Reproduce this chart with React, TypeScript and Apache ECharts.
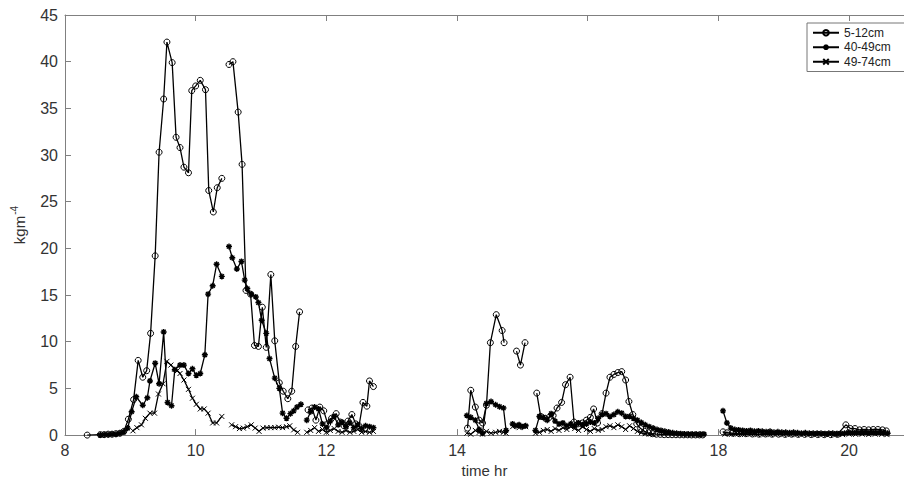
import React, { useEffect, useRef } from 'react';
import * as echarts from 'echarts';

type Pt = [number, number] | null;

const seriesNames = ['5-12cm', '40-49cm', '49-74cm'];
const xLabel = 'time hr';
const yLabelMain = 'kgm';
const yLabelSup = '-4';

// 5-12cm (time hr, value); null marks a gap in the record
const s1: Pt[] = [
  [8.34, 0], [8.54, 0.05], [8.6, 0.05], [8.66, 0.1], [8.72, 0.1], [8.78, 0.15], [8.84, 0.2], [8.9, 0.4],
  [8.97, 1.7], [9.05, 3.8], [9.12, 8.0], [9.19, 6.2], [9.25, 6.9], [9.31, 10.9], [9.38, 19.2], [9.44, 30.3],
  [9.51, 36.0], [9.56, 42.1], [9.64, 39.9], [9.7, 31.9], [9.76, 30.8], [9.82, 28.7], [9.89, 28.1], [9.94, 36.9],
  [10.0, 37.4], [10.07, 38.0], [10.15, 37.0], [10.2, 26.2], [10.27, 23.9], [10.33, 26.5], [10.4, 27.5],
  null,
  [10.51, 39.7], [10.57, 40.0], [10.65, 34.6], [10.71, 29.0], [10.77, 15.5], [10.84, 15.1], [10.9, 9.6],
  [10.96, 9.5], [11.02, 13.7], [11.08, 9.4], [11.15, 17.2], [11.21, 10.1], [11.28, 5.6], [11.34, 4.7],
  [11.41, 3.9], [11.47, 4.7], [11.53, 9.5], [11.59, 13.2],
  null,
  [11.72, 2.7], [11.78, 2.9], [11.84, 1.6], [11.9, 3.0], [11.96, 2.6], [12.02, 1.2], [12.08, 1.8], [12.15, 2.3],
  [12.21, 1.4], [12.27, 1.0], [12.33, 1.5], [12.39, 2.2], [12.45, 1.2], [12.5, 1.0], [12.56, 3.5], [12.62, 3.1],
  [12.66, 5.8], [12.72, 5.2],
  null,
  [14.16, 0.75], [14.21, 4.8], [14.28, 3.0], [14.34, 1.6], [14.39, 1.3], [14.45, 3.2], [14.51, 9.9], [14.6, 12.9],
  [14.69, 11.2], [14.72, 9.9],
  null,
  [14.91, 9.0], [14.97, 7.5], [15.04, 9.9],
  null,
  [15.22, 4.5], [15.28, 2.0], [15.35, 1.8], [15.41, 1.9], [15.47, 2.1], [15.53, 2.9], [15.6, 3.5], [15.66, 5.4],
  [15.73, 6.2], [15.79, 1.4], [15.85, 1.2], [15.92, 1.3], [15.98, 1.6], [16.04, 1.9], [16.09, 2.8], [16.15, 1.3],
  [16.22, 2.3], [16.28, 4.5], [16.34, 6.2], [16.4, 6.5], [16.46, 6.7], [16.52, 6.8], [16.58, 5.9], [16.63, 3.6],
  [16.69, 2.2], [16.75, 1.2], [16.81, 0.7], [16.87, 0.4], [16.93, 0.25], [16.99, 0.15], [17.05, 0.1], [17.11, 0.08],
  [17.17, 0.05], [17.23, 0.05], [17.29, 0.04], [17.35, 0.04], [17.41, 0.03], [17.47, 0.03], [17.53, 0.03],
  [17.59, 0.02], [17.65, 0.02], [17.71, 0.02], [17.76, 0.02],
  null,
  [18.07, 0.35], [18.13, 0.25], [18.22, 0.2], [18.32, 0.15], [18.42, 0.15], [18.52, 0.12], [18.62, 0.1],
  [18.72, 0.12], [18.82, 0.1], [18.92, 0.1], [19.02, 0.08], [19.12, 0.1], [19.22, 0.08], [19.32, 0.08],
  [19.42, 0.06], [19.52, 0.06], [19.62, 0.05], [19.72, 0.05], [19.82, 0.08],
  [19.95, 1.1], [20.02, 0.7], [20.09, 0.7], [20.16, 0.56], [20.23, 0.6], [20.3, 0.56], [20.37, 0.6],
  [20.44, 0.6], [20.51, 0.56], [20.57, 0.45],
];

// 40-49cm
const s2: Pt[] = [
  [8.54, 0], [8.6, 0.05], [8.66, 0.05], [8.72, 0.1], [8.78, 0.1], [8.84, 0.2], [8.9, 0.35], [8.96, 0.75],
  [9.02, 2.5], [9.09, 4.1], [9.19, 3.2], [9.26, 4.0], [9.3, 5.8], [9.38, 7.7], [9.44, 5.5], [9.51, 11.05],
  [9.57, 3.5], [9.63, 3.15], [9.68, 7.0], [9.76, 7.5], [9.82, 7.5], [9.89, 6.6], [9.95, 7.1], [10.01, 6.4],
  [10.07, 6.6], [10.14, 8.6], [10.19, 15.1], [10.26, 16.0], [10.32, 18.3], [10.4, 17.0],
  null,
  [10.51, 20.2], [10.56, 19.0], [10.63, 17.8], [10.7, 18.6], [10.75, 16.6], [10.79, 15.7], [10.85, 15.1],
  [10.92, 14.8], [10.96, 14.2], [11.01, 12.3], [11.08, 10.9], [11.13, 8.2], [11.21, 6.1], [11.28, 5.0],
  [11.33, 2.35], [11.39, 1.8], [11.45, 2.3], [11.5, 2.6], [11.55, 3.0], [11.61, 3.3],
  null,
  [11.7, 1.6], [11.76, 2.5], [11.82, 3.0], [11.88, 2.8], [11.94, 1.2], [12.0, 0.8], [12.06, 1.5], [12.12, 2.0],
  [12.18, 1.1], [12.24, 1.4], [12.3, 0.9], [12.36, 1.3], [12.42, 0.8], [12.48, 1.1], [12.54, 0.7], [12.6, 1.0],
  [12.66, 0.9], [12.72, 0.8],
  null,
  [14.15, 2.1], [14.21, 1.9], [14.28, 1.6], [14.34, 0.6], [14.39, 0.2], [14.45, 3.4], [14.52, 3.6], [14.59, 3.25],
  [14.65, 3.05], [14.71, 2.9], [14.75, 0.5],
  null,
  [14.85, 1.2], [14.9, 1.0], [14.95, 1.1], [15.0, 0.9], [15.05, 1.0],
  null,
  [15.2, 0.5], [15.26, 2.0], [15.32, 1.9], [15.38, 1.6], [15.44, 2.3], [15.5, 1.5], [15.56, 1.2], [15.62, 1.3],
  [15.68, 1.0], [15.74, 1.2], [15.8, 1.0], [15.86, 1.3], [15.92, 1.1], [15.98, 1.2], [16.04, 1.4], [16.1, 1.3],
  [16.16, 1.8], [16.22, 2.2], [16.28, 2.3], [16.34, 2.0], [16.4, 2.2], [16.46, 2.5], [16.52, 2.35], [16.58, 2.0],
  [16.64, 2.0], [16.7, 1.8], [16.76, 1.6], [16.82, 1.35], [16.88, 1.1], [16.94, 0.9], [17.0, 0.75], [17.06, 0.6],
  [17.12, 0.5], [17.18, 0.4], [17.24, 0.33], [17.3, 0.25], [17.36, 0.2], [17.42, 0.15], [17.48, 0.12],
  [17.54, 0.1], [17.6, 0.1], [17.66, 0.1], [17.72, 0.08], [17.78, 0.1],
  null,
  [18.07, 2.6], [18.13, 1.3], [18.19, 0.75], [18.25, 0.6], [18.31, 0.55], [18.37, 0.5], [18.43, 0.45],
  [18.49, 0.5], [18.55, 0.4], [18.61, 0.45], [18.67, 0.4], [18.73, 0.35], [18.79, 0.4], [18.85, 0.3],
  [18.91, 0.35], [18.97, 0.3], [19.03, 0.3], [19.09, 0.25], [19.15, 0.3], [19.21, 0.25], [19.27, 0.2],
  [19.33, 0.25], [19.39, 0.2], [19.45, 0.2], [19.51, 0.2], [19.57, 0.2], [19.63, 0.15], [19.69, 0.2],
  [19.75, 0.2], [19.81, 0.15], [19.87, 0.2], [19.93, 0.2], [19.99, 0.3], [20.05, 0.25], [20.11, 0.3],
  [20.17, 0.25], [20.23, 0.3], [20.29, 0.25], [20.35, 0.3], [20.41, 0.25], [20.47, 0.3], [20.53, 0.25],
  [20.59, 0.2],
];

// 49-74cm
const s3: Pt[] = [
  [9.04, 0.46], [9.1, 0.8], [9.17, 1.1], [9.23, 1.8], [9.3, 2.35], [9.37, 2.35], [9.43, 4.4], [9.5, 5.5],
  [9.56, 7.9], [9.62, 7.5], [9.68, 7.1], [9.72, 6.9], [9.76, 6.6], [9.82, 5.9], [9.89, 4.9], [9.95, 3.95],
  [10.01, 3.3], [10.07, 2.8], [10.13, 2.8], [10.19, 2.35], [10.26, 1.3], [10.32, 1.3], [10.4, 2.0],
  null,
  [10.55, 1.1], [10.61, 0.9], [10.67, 0.7], [10.73, 0.75], [10.79, 0.9], [10.85, 1.1], [10.91, 0.75],
  [10.97, 0.4], [11.03, 0.75], [11.09, 0.8], [11.15, 0.8], [11.21, 0.8], [11.27, 0.85], [11.33, 0.8],
  [11.39, 0.9], [11.44, 1.0], [11.5, 0.56], [11.56, 0.3],
  null,
  [11.7, 0.3], [11.76, 0.5], [11.82, 0.8], [11.88, 0.4], [11.94, 0.6], [12.0, 0.3], [12.06, 0.5], [12.12, 0.7],
  [12.18, 0.4], [12.24, 0.3], [12.3, 0.5], [12.36, 0.3], [12.42, 0.4], [12.48, 0.6], [12.54, 0.3], [12.6, 0.4],
  [12.66, 0.3], [12.72, 0.4],
  null,
  [14.15, 0.2], [14.21, 0.1], [14.28, 0.5], [14.34, 0.3], [14.39, 0.1], [14.45, 0.4], [14.52, 0.2],
  [14.59, 0.3], [14.65, 0.4], [14.71, 0.3], [14.75, 0.2],
  null,
  [14.85, 0.9], [14.9, 1.1], [14.95, 0.8], [15.0, 1.0], [15.05, 0.9],
  null,
  [15.2, 0.2], [15.26, 0.3], [15.32, 0.5], [15.38, 0.6], [15.44, 0.4], [15.5, 0.7], [15.56, 0.5], [15.62, 0.8],
  [15.68, 0.6], [15.74, 0.9], [15.8, 0.7], [15.86, 0.5], [15.92, 0.9], [15.98, 0.6], [16.04, 0.4], [16.1, 0.7],
  [16.16, 0.5], [16.22, 0.6], [16.28, 0.9], [16.34, 1.0], [16.4, 0.8], [16.46, 1.1], [16.52, 0.9], [16.58, 0.6],
  [16.64, 1.0], [16.7, 0.7], [16.76, 0.4], [16.82, 0.25], [16.88, 0.15], [16.94, 0.1], [17.0, 0.05],
  null,
  [18.1, 0.1], [18.2, 0.08], [18.3, 0.12], [18.4, 0.06], [18.5, 0.1], [18.6, 0.05], [18.7, 0.08], [18.8, 0.05],
  [18.9, 0.1], [19.0, 0.05], [19.1, 0.06], [19.2, 0.04], [19.3, 0.08], [19.4, 0.05], [19.5, 0.04], [19.6, 0.05],
  [19.7, 0.06], [19.8, 0.04], [19.9, 0.05], [20.0, 0.1], [20.1, 0.08], [20.2, 0.1], [20.3, 0.06], [20.4, 0.1],
  [20.5, 0.08], [20.58, 0.05],
];

const FONT = '"Liberation Sans", Arial, Helvetica, sans-serif';
const AXIS_COLOR = '#808080';
const TEXT_COLOR = '#333';

const toData = (arr: Pt[]) => arr.map((p) => (p === null ? ['-', '-'] : p));

const ASTERISK = 'path://M5,0L5,10M0,5L10,5M1.5,1.5L8.5,8.5M8.5,1.5L1.5,8.5';
const CROSS = 'path://M0,0L10,10M10,0L0,10';

export default function App() {
  const ref = useRef<HTMLDivElement>(null);

  useEffect(() => {
    if (!ref.current) return;
    const chart = echarts.init(ref.current, null, { renderer: 'svg' });
    const lineStyle = { color: '#000', width: 1.3 };
    const option: any = {
      animation: false,
      backgroundColor: '#fff',
      textStyle: { fontFamily: FONT },
      grid: { left: 65, right: 0, top: 15, bottom: 46, containLabel: false },
      legend: {
        data: seriesNames,
        orient: 'vertical',
        left: 807,
        top: 23,
        padding: [3, 30, 3, 5],
        itemGap: 1,
        itemWidth: 26,
        itemHeight: 7,
        borderColor: '#777',
        borderWidth: 1,
        textStyle: { fontSize: 12, color: '#222', fontFamily: FONT, lineHeight: 13.5 },
      },
      xAxis: [
        {
          type: 'value',
          position: 'bottom',
          min: 8,
          max: 20.84,
          interval: 2,
          axisLine: { show: true, lineStyle: { color: AXIS_COLOR, width: 1 } },
          axisTick: { show: true, inside: true, length: 6, lineStyle: { color: AXIS_COLOR } },
          axisLabel: { color: TEXT_COLOR, fontSize: 16, margin: 7, showMaxLabel: false, fontFamily: FONT },
          splitLine: { show: false },
          name: xLabel,
          nameLocation: 'middle',
          nameGap: 26,
          nameTextStyle: { fontSize: 15, color: TEXT_COLOR, fontFamily: FONT },
        },
        {
          type: 'value',
          position: 'top',
          min: 8,
          max: 20.84,
          interval: 2,
          axisLine: { show: true, lineStyle: { color: AXIS_COLOR, width: 1 } },
          axisTick: { show: true, inside: true, length: 6, lineStyle: { color: AXIS_COLOR } },
          axisLabel: { show: false },
          splitLine: { show: false },
        },
      ],
      yAxis: {
        type: 'value',
        min: 0,
        max: 45,
        interval: 5,
        axisLine: { show: true, lineStyle: { color: AXIS_COLOR, width: 1 } },
        axisTick: { show: true, inside: true, length: 6, lineStyle: { color: AXIS_COLOR } },
        axisLabel: { color: TEXT_COLOR, fontSize: 16, margin: 7, fontFamily: FONT },
        splitLine: { show: false },
        name: `{a|${yLabelMain}}{b|${yLabelSup}}`,
        nameLocation: 'middle',
        nameRotate: 90,
        nameGap: 36,
        nameTextStyle: {
          rich: {
            a: { fontSize: 15, color: TEXT_COLOR, fontFamily: FONT },
            b: { fontSize: 10, color: TEXT_COLOR, fontFamily: FONT, padding: [0, 0, 10, 1] },
          },
        },
      },
      series: [
        {
          name: seriesNames[0],
          type: 'line',
          data: toData(s1),
          symbol: 'circle',
          symbolSize: 6,
          showSymbol: true,
          connectNulls: false,
          lineStyle,
          itemStyle: { color: 'rgba(255,255,255,0)', borderColor: '#000', borderWidth: 1 },
          z: 2,
        },
        {
          name: seriesNames[1],
          type: 'line',
          data: toData(s2),
          symbol: ASTERISK,
          symbolSize: 6,
          showSymbol: true,
          connectNulls: false,
          lineStyle,
          itemStyle: { color: '#000', borderColor: '#000', borderWidth: 1.4 },
          z: 3,
        },
        {
          name: seriesNames[2],
          type: 'line',
          data: toData(s3),
          symbol: CROSS,
          symbolSize: 5,
          showSymbol: true,
          connectNulls: false,
          lineStyle,
          itemStyle: { color: '#000', borderColor: '#000', borderWidth: 1 },
          z: 4,
        },
      ],
    };
    chart.setOption(option);
    return () => chart.dispose();
  }, []);

  return (
    <div
      ref={ref}
      style={{ position: 'absolute', left: 0, top: 0, width: 904, height: 483, background: '#fff' }}
    />
  );
}
